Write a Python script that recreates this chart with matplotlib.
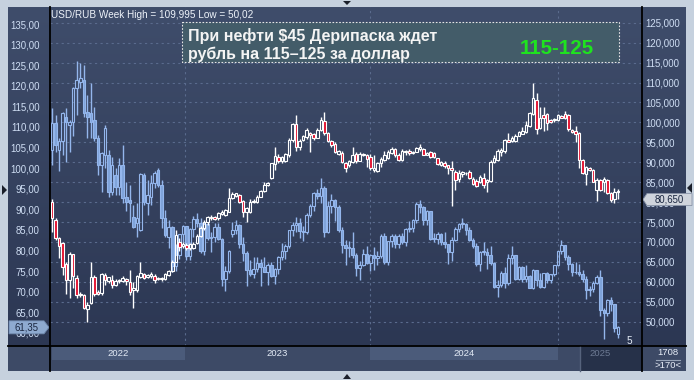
import numpy as np
import matplotlib
matplotlib.use('Agg')
import matplotlib.pyplot as plt
from matplotlib.patches import Rectangle, Polygon
from matplotlib.colors import LinearSegmentedColormap

plt.rcParams['font.family'] = ['Liberation Sans', 'DejaVu Sans']

# ---------------- DATA ----------------
# USD/RUB weekly candles (right axis)
usd_open = [80.1, 75.5, 70.9, 69.7, 64.6, 60.5, 66.9, 60.9, 56.6, 56.7, 53.2, 54.6, 61.3, 57.4, 57.1, 61.7,
            60.2, 60.5, 59.2, 60.1, 60.3, 60.7, 60.0, 57.9, 57.9, 61.1, 61.9, 61.3, 61.5, 61.5, 60.9, 60.6,
            60.7, 61.7, 62.6, 65.1, 70.1, 69.0, 69.3, 68.4, 68.5, 69.8, 71.5, 73.4, 75.1, 75.9, 76.2, 75.9,
            77.1, 76.8, 77.6, 81.1, 81.6, 81.8, 80.3, 77.6, 77.6, 80.1, 80.1, 81.4, 82.8, 84.2, 86.1, 89.5,
            91.4, 90.2, 90.3, 91.8, 95.6, 99.5, 93.9, 95.7, 96.4, 97.4, 97.1, 96.2, 98.1, 100.3, 97.4, 95.3,
            94.5, 92.1, 92.4, 89.9, 89.3, 90.0, 92.0, 90.3, 92.1, 91.8, 91.2, 88.1, 87.8, 89.7, 90.6, 91.0,
            92.2, 93.2, 91.8, 90.6, 92.5, 92.8, 92.2, 92.6, 93.4, 93.4, 91.9, 92.5, 92.3, 91.0, 89.3, 89.9,
            89.3, 88.5, 87.6, 85.8, 87.1, 87.4, 87.6, 85.9, 85.3, 85.1, 86.1, 85.1, 85.3, 90.0, 90.6, 92.5,
            92.7, 95.5, 95.3, 95.3, 96.7, 97.0, 97.5, 99.2, 102.0, 105.6, 98.7, 101.9, 102.0, 100.5, 100.5, 100.6,
            101.6, 102.0, 101.8, 98.0, 97.9, 97.4, 90.6, 87.0, 88.5, 88.1, 83.0, 85.5, 85.1, 85.5, 82.2, 80.9,
            82.6]
usd_high = [80.8, 75.9, 71.2, 70.1, 65.0, 67.6, 67.1, 61.7, 57.4, 56.9, 55.0, 65.1, 61.7, 58.0, 62.1, 62.1,
            61.3, 61.7, 60.6, 60.8, 61.5, 61.0, 63.0, 60.0, 61.7, 64.9, 62.1, 62.0, 62.4, 61.9, 61.2, 61.3,
            62.1, 62.9, 65.5, 73.0, 71.1, 69.9, 69.8, 69.8, 70.0, 72.0, 74.0, 75.5, 76.4, 76.8, 76.5, 77.6,
            78.0, 78.3, 83.5, 82.6, 82.4, 82.0, 80.5, 78.9, 80.9, 80.8, 81.8, 83.1, 85.1, 85.0, 89.9, 93.9,
            92.0, 91.5, 92.2, 96.0, 99.8, 101.9, 95.8, 96.8, 98.7, 97.7, 97.3, 98.5, 101.4, 102.5, 97.7, 95.5,
            95.0, 93.0, 92.8, 90.1, 90.6, 93.7, 92.5, 92.6, 92.4, 92.0, 92.0, 91.8, 90.0, 91.4, 92.7, 93.1,
            93.7, 93.6, 92.2, 93.2, 93.1, 93.2, 92.9, 93.9, 94.5, 93.6, 92.6, 92.7, 92.5, 91.0, 90.3, 90.2,
            89.3, 90.2, 88.1, 88.1, 87.8, 87.6, 88.1, 86.4, 85.8, 86.8, 87.2, 85.8, 90.6, 91.8, 93.3, 93.5,
            95.8, 97.3, 96.6, 97.0, 97.8, 98.9, 100.3, 102.7, 110.0, 107.3, 103.9, 103.9, 102.3, 100.9, 101.2, 102.0,
            101.8, 102.9, 102.0, 98.3, 99.2, 97.5, 90.8, 89.1, 88.7, 88.3, 86.0, 85.8, 86.4, 85.8, 82.6, 83.6,
            83.2]
usd_low = [72.6, 70.5, 65.9, 61.7, 56.9, 55.9, 58.4, 56.0, 56.2, 53.2, 50.0, 54.4, 56.5, 56.7, 56.7, 59.2,
           59.8, 58.4, 58.9, 59.7, 59.9, 59.2, 56.7, 53.4, 57.4, 60.9, 60.7, 61.0, 60.9, 59.8, 60.4, 60.3,
           60.5, 61.5, 62.4, 64.9, 67.7, 68.5, 67.9, 68.0, 68.2, 69.5, 71.2, 73.0, 74.2, 75.6, 75.4, 75.6,
           76.8, 76.4, 77.4, 80.7, 81.2, 79.8, 76.3, 75.1, 77.2, 79.8, 79.7, 81.2, 82.6, 84.0, 85.9, 88.1,
           89.7, 89.9, 90.0, 91.4, 95.2, 92.7, 93.1, 95.3, 95.9, 92.5, 95.6, 96.0, 97.9, 96.8, 95.0, 93.9,
           92.2, 91.9, 89.7, 87.6, 88.9, 89.7, 89.7, 90.2, 91.5, 88.9, 88.1, 87.5, 87.5, 88.9, 90.2, 90.8,
           92.0, 91.4, 90.3, 90.3, 91.8, 91.8, 92.0, 92.5, 92.7, 91.7, 91.8, 91.1, 91.1, 89.3, 89.0, 88.5,
           87.0, 79.1, 83.0, 85.1, 86.4, 86.9, 85.8, 84.3, 83.9, 84.7, 83.5, 82.6, 85.0, 89.7, 90.3, 91.6,
           92.2, 95.0, 95.1, 95.2, 96.5, 97.0, 97.3, 98.9, 101.8, 97.0, 98.3, 97.8, 98.1, 99.8, 100.2, 100.3,
           101.0, 100.8, 97.8, 97.3, 95.0, 88.5, 87.0, 84.3, 87.9, 85.0, 80.3, 82.9, 82.5, 82.0, 80.1, 79.9,
           80.8]
usd_close = [75.9, 70.9, 69.1, 63.8, 60.5, 66.9, 61.5, 56.7, 56.9, 53.4, 54.2, 61.3, 56.9, 56.9, 61.9, 60.4,
             61.1, 59.2, 60.2, 60.5, 60.9, 60.1, 57.5, 58.4, 61.5, 62.1, 61.0, 61.7, 62.0, 60.4, 60.7, 61.0,
             61.9, 62.7, 65.1, 71.7, 68.8, 69.4, 68.5, 69.4, 69.6, 71.5, 73.4, 75.0, 76.3, 76.3, 75.7, 77.3,
             77.6, 78.0, 81.1, 82.0, 82.2, 80.1, 77.4, 78.4, 80.1, 80.4, 81.4, 82.8, 84.3, 84.7, 89.7, 91.6,
             90.2, 91.2, 92.0, 95.6, 99.5, 93.7, 95.3, 96.6, 98.1, 96.8, 96.2, 98.1, 100.5, 97.4, 95.3, 94.3,
             92.5, 92.9, 90.0, 88.6, 90.3, 91.8, 90.2, 92.1, 91.8, 90.7, 88.5, 88.5, 89.7, 90.8, 91.8, 92.5,
             93.2, 91.8, 90.6, 92.9, 92.7, 92.2, 92.6, 93.5, 93.7, 91.8, 92.4, 91.4, 91.4, 89.5, 90.0, 89.1,
             88.5, 88.1, 85.5, 87.2, 87.6, 87.2, 86.1, 84.5, 84.1, 86.4, 84.3, 85.5, 90.0, 91.0, 92.7, 93.1,
             95.6, 95.2, 96.0, 96.7, 97.7, 97.8, 99.3, 102.3, 106.2, 98.3, 101.2, 101.0, 99.8, 100.1, 100.8, 101.8,
             101.2, 101.0, 98.3, 97.7, 97.1, 90.6, 87.2, 88.9, 88.1, 85.1, 85.5, 83.0, 85.8, 82.2, 80.5, 82.6,
             82.9]

# Second series, weekly candles (left axis)
oil_open = [104.4, 110.9, 104.4, 106.5, 112.5, 110.5, 111.3, 119.4, 121.0, 121.4, 113.7, 113.3, 111.7, 107.3, 100.8, 103.2,
            103.2, 94.3, 98.4, 95.5, 100.8, 93.1, 92.3, 88.2, 86.6, 85.0, 98.4, 91.5, 93.1, 96.3, 99.6, 95.9,
            87.8, 83.4, 85.8, 76.3, 79.0, 83.9, 85.9, 78.6, 85.3, 87.6, 86.7, 79.9, 86.4, 83.0, 83.2, 85.8,
            82.8, 73.0, 75.0, 84.0, 84.9, 86.3, 81.7, 79.5, 75.3, 74.2, 75.6, 77.0, 76.1, 74.8, 76.6, 73.9,
            75.4, 78.5, 79.9, 81.1, 85.0, 86.2, 86.8, 84.8, 84.5, 88.6, 90.7, 93.9, 93.3, 95.3, 84.6, 90.9,
            92.2, 90.5, 84.9, 81.4, 80.6, 80.6, 78.9, 75.8, 76.6, 79.1, 77.0, 78.8, 78.3, 78.6, 83.6, 77.3,
            82.2, 83.5, 81.6, 83.6, 82.1, 85.3, 85.4, 87.5, 91.2, 90.5, 87.3, 89.5, 82.8, 82.8, 84.0, 82.1,
            81.6, 79.6, 82.6, 85.2, 86.4, 86.5, 85.0, 82.6, 81.1, 76.8, 79.7, 79.7, 79.0, 76.9, 71.1, 71.6,
            74.5, 72.0, 78.1, 79.0, 73.1, 76.1, 73.1, 73.9, 71.0, 75.2, 72.9, 71.1, 74.5, 72.9, 74.2, 76.5,
            79.8, 81.3, 78.5, 76.8, 74.7, 74.7, 74.4, 73.2, 70.4, 70.6, 72.2, 73.6, 65.6, 64.8, 68.0, 66.9,
            59.7]
oil_high = [114.5, 112.9, 107.3, 113.7, 114.5, 111.7, 119.8, 125.9, 125.5, 125.1, 117.8, 120.6, 114.9, 108.1, 104.0, 110.5,
            104.4, 102.8, 100.0, 102.4, 105.6, 96.7, 95.9, 91.1, 91.5, 98.8, 98.8, 97.1, 98.4, 99.2, 100.0, 97.1,
            89.9, 87.4, 85.9, 81.5, 84.0, 86.3, 86.0, 85.5, 88.5, 89.1, 87.8, 86.9, 86.9, 84.5, 86.8, 86.8,
            83.0, 76.3, 80.2, 87.0, 87.5, 86.4, 83.4, 80.0, 77.7, 78.4, 78.4, 78.0, 78.5, 77.0, 77.1, 75.7,
            78.6, 81.8, 81.5, 85.0, 87.0, 88.1, 87.8, 85.9, 89.2, 91.2, 94.3, 95.0, 97.7, 95.6, 92.0, 93.8,
            92.6, 91.0, 85.7, 82.5, 82.4, 84.5, 79.4, 77.4, 80.3, 81.0, 79.2, 80.8, 80.0, 84.1, 84.2, 82.4,
            83.9, 83.9, 84.0, 84.2, 85.5, 87.2, 87.6, 91.9, 92.2, 90.9, 89.8, 89.7, 84.2, 84.5, 84.3, 84.4,
            81.6, 83.2, 85.6, 86.8, 88.0, 86.6, 85.6, 83.0, 81.8, 79.9, 82.1, 80.5, 81.0, 77.3, 72.8, 75.1,
            76.0, 79.2, 81.2, 79.0, 76.3, 76.2, 76.4, 74.1, 75.5, 75.3, 74.5, 74.6, 74.8, 74.0, 76.6, 80.0,
            82.6, 81.4, 78.9, 77.0, 77.1, 76.8, 75.2, 73.8, 71.5, 72.6, 74.0, 75.3, 66.0, 68.3, 68.7, 67.0,
            61.6]
oil_low = [100.8, 104.0, 99.2, 103.2, 101.6, 104.0, 107.7, 112.9, 119.4, 112.5, 107.3, 107.3, 106.5, 98.4, 94.3, 100.0,
           93.1, 93.5, 93.5, 93.5, 91.5, 89.5, 87.0, 85.4, 83.4, 84.8, 91.1, 88.6, 91.1, 95.1, 95.5, 85.4,
           83.4, 80.6, 74.9, 75.0, 78.0, 82.0, 77.6, 77.8, 83.4, 85.8, 79.5, 79.0, 82.6, 79.7, 82.1, 82.5,
           71.4, 70.1, 74.5, 83.3, 83.9, 80.6, 77.5, 71.3, 73.9, 73.4, 74.8, 71.5, 74.7, 71.6, 73.5, 71.9,
           74.3, 77.7, 77.9, 80.6, 83.5, 84.6, 83.1, 82.3, 84.1, 88.1, 89.7, 92.4, 91.5, 83.4, 84.3, 89.0,
           87.2, 84.4, 79.4, 76.6, 78.4, 78.2, 73.9, 72.9, 76.3, 76.8, 75.0, 75.2, 76.4, 78.1, 76.7, 76.6,
           80.8, 80.6, 80.5, 81.6, 81.1, 84.5, 84.6, 86.8, 89.0, 86.2, 86.1, 82.6, 82.1, 81.5, 81.3, 80.6,
           76.8, 77.5, 82.2, 84.6, 85.4, 83.7, 82.3, 80.7, 76.2, 75.1, 79.0, 75.6, 76.4, 71.0, 68.7, 71.2,
           70.9, 71.6, 76.7, 72.8, 72.8, 72.4, 72.3, 70.8, 70.6, 71.3, 70.9, 71.0, 72.1, 72.2, 73.9, 76.2,
           79.2, 77.8, 75.2, 73.7, 74.3, 73.9, 72.4, 68.3, 69.0, 70.0, 71.9, 64.0, 58.4, 64.1, 65.3, 60.1,
           58.8]
oil_close = [110.9, 105.6, 106.5, 113.3, 111.3, 111.3, 119.4, 121.4, 122.0, 113.3, 112.5, 111.3, 107.3, 100.8, 103.6, 109.8,
             94.3, 100.8, 95.5, 100.8, 92.7, 91.9, 91.5, 85.8, 87.8, 98.6, 91.9, 93.5, 96.3, 98.8, 95.9, 87.8,
             83.8, 85.8, 76.3, 79.0, 83.9, 85.9, 78.6, 85.3, 87.6, 86.7, 79.9, 86.4, 83.0, 83.2, 85.8, 82.8,
             73.0, 75.0, 79.8, 84.9, 86.3, 81.7, 79.5, 75.3, 74.2, 75.6, 77.0, 76.1, 74.8, 76.6, 73.9, 75.4,
             78.5, 79.9, 81.1, 85.0, 86.2, 86.8, 84.8, 84.5, 88.6, 90.7, 93.9, 93.3, 95.3, 84.6, 90.9, 92.2,
             90.5, 84.9, 81.4, 80.6, 80.6, 78.9, 75.8, 76.6, 79.1, 77.0, 78.8, 78.3, 78.6, 83.6, 77.3, 82.2,
             83.5, 81.6, 83.6, 82.1, 85.3, 85.4, 87.5, 91.2, 90.5, 87.3, 89.5, 82.8, 82.8, 84.0, 82.1, 81.6,
             79.6, 82.6, 85.2, 86.4, 86.5, 85.0, 82.6, 81.1, 76.8, 79.7, 79.7, 79.0, 76.9, 71.1, 71.6, 74.5,
             72.0, 78.1, 79.0, 73.1, 76.1, 73.1, 73.9, 71.0, 75.2, 72.9, 71.1, 74.5, 72.9, 74.2, 76.5, 79.8,
             81.3, 78.5, 76.8, 74.7, 74.7, 74.4, 73.2, 70.4, 70.6, 72.2, 73.6, 65.6, 64.8, 68.0, 66.9, 61.3,
             61.35]

usd_last = 80.65
oil_last = 61.35
left_ticks = [60, 65, 70, 75, 80, 85, 90, 95, 100, 105, 110, 115, 120, 125, 130, 135]
right_ticks = [50, 55, 60, 65, 70, 75, 80, 85, 90, 95, 100, 105, 110, 115, 120, 125]
year_labels = ['2022', '2023', '2024', '2025']
header = 'USD/RUB Week High = 109,995 Low = 50,02'
note_lines = ['При нефти $45 Дерипаска ждет', 'рубль на 115–125 за доллар']
note_big = '115-125'

# ---------------- LAYOUT ----------------
W, H = 694, 380
fig = plt.figure(figsize=(W / 100, H / 100), dpi=100)
fig.patch.set_facecolor('#c6d1de')

bg = fig.add_axes([0, 0, 1, 1], zorder=0)
bg.set_xlim(0, W); bg.set_ylim(H, 0); bg.axis('off')
cmap = LinearSegmentedColormap.from_list('g', ['#3f4d6b', '#2c3753'])
grad = np.linspace(0, 1, 256).reshape(-1, 1)
bg.imshow(grad, extent=(8, 686, 346, 7), cmap=cmap, aspect='auto', interpolation='bilinear')
bg.add_patch(Rectangle((8, 346), 678, 25, fc='#3d4a66', ec='none'))
bg.set_xlim(0, W); bg.set_ylim(H, 0)

ax = fig.add_axes([50 / W, 1 - 346 / H, 592 / W, 339 / H], zorder=2)
ax.patch.set_alpha(0)
xs = np.arange(len(usd_close))
ax.set_xlim(-0.565, 166.8)
ax.set_ylim(43.91, 128.94)
ax_b = ax.twinx()
ax_b.set_ylim(56.82, 139.13)
ax_w = ax.twinx()
ax_w.set_ylim(43.91, 128.94)
for a in (ax, ax_b, ax_w):
    for s in a.spines.values():
        s.set_visible(False)
    a.set_xticks([])

lab_col = '#cfdef4'
ax.yaxis.tick_right()
ax.set_yticks(right_ticks)
ax.set_yticklabels([f'{v:.3f}'.replace('.', ',') for v in right_ticks])
ax.tick_params(axis='y', length=0, pad=2.7, labelsize=6.9, labelcolor=lab_col)
ax_b.yaxis.tick_left()
ax_b.set_yticks(left_ticks)
ax_b.set_yticklabels([f'{v:.2f}'.replace('.', ',') for v in left_ticks])
ax_b.tick_params(axis='y', length=0, pad=7.5, labelsize=6.9, labelcolor=lab_col)
ax_w.set_yticks([])

grid_kw = dict(color='#5a6b8d', lw=0.8, linestyle=(0, (2, 3)))
ax.grid(axis='y', **grid_kw)
ax.set_axisbelow(True)
year_bounds = [37.6, 89.9, 143.0]
for xb in year_bounds:
    ax.axvline(xb, zorder=0, **grid_kw)


def candles(a, o, h, l, c, edge, upfill, downfill, width, wz):
    o, h, l, c = map(np.asarray, (o, h, l, c))
    lo = np.minimum(o, c)
    hi = np.maximum(o, c)
    a.vlines(xs[:len(o)], l, lo, color=edge, lw=1.0, zorder=wz)
    a.vlines(xs[:len(o)], hi, h, color=edge, lw=1.0, zorder=wz)
    fills = [upfill if cc >= oo else downfill for oo, cc in zip(o, c)]
    a.bar(xs[:len(o)], np.maximum(hi - lo, 0.18), width, bottom=lo, color=fills,
          edgecolor=edge, linewidth=0.8, zorder=wz + 1)


candles(ax_b, oil_open, oil_high, oil_low, oil_close, '#94b6ec', 'none', '#7fa3da', 0.72, 3)
candles(ax_w, usd_open, usd_high, usd_low, usd_close, '#ffffff', 'none', '#e3112f', 0.72, 3)

# ---------------- DECORATIONS ----------------
ov = fig.add_axes([0, 0, 1, 1], zorder=10)
ov.set_xlim(0, W); ov.set_ylim(H, 0); ov.axis('off')
ov.patch.set_alpha(0)
fig.canvas.draw()
inv = ov.transData.inverted()


def px_x(i):
    return inv.transform(ax.transData.transform((i, 50)))[0]


def px_y(a, v):
    return inv.transform(a.transData.transform((0, v)))[1]


# frame lines
ov.plot([50, 50], [7, 371], color='black', lw=1.3)
ov.plot([642, 642], [7, 371], color='black', lw=1.3)
ov.plot([8, 686], [346, 346], color='black', lw=1.3)

# header
ov.text(51, 15, header, fontsize=7.2, color='#eef3fa', va='center', ha='left')

# note box
ov.add_patch(Rectangle((182, 22), 437, 40, fc='#435c69', ec='#e6e6e6', lw=0.8, ls=(0, (1.5, 1.5))))
ov.text(188, 40.5, note_lines[0], fontsize=11.5, fontweight='bold', color='#f4f4f4', va='baseline')
ov.text(188, 59, note_lines[1], fontsize=11.5, fontweight='bold', color='#f4f4f4', va='baseline')
ov.text(557, 54, note_big, fontsize=14.8, fontweight='bold', color='#1fe31f', va='baseline', ha='center')

# year strip
x0, x1, x2, x3 = px_x(0), px_x(year_bounds[0]), px_x(year_bounds[1]), px_x(year_bounds[2])
ov.add_patch(Rectangle((x0, 347), x1 - x0, 13, fc='#4b5b7a', ec='none'))
ov.add_patch(Rectangle((x2, 347), x3 - x2, 13, fc='#4b5b7a', ec='none'))
ov.add_patch(Rectangle((580, 347), 62, 24, fc='#263149', ec='none'))
ov.plot([580, 580], [347, 371], color='#56637c', lw=1)
ov.text((x0 + x1) / 2, 353.5, year_labels[0], fontsize=6.8, color='#e4ebf6', ha='center', va='center')
ov.text((x1 + x2) / 2, 353.5, year_labels[1], fontsize=6.8, color='#e4ebf6', ha='center', va='center')
ov.text((x2 + x3) / 2, 353.5, year_labels[2], fontsize=6.8, color='#e4ebf6', ha='center', va='center')
ov.text(600, 353.5, year_labels[3], fontsize=6.8, color='#6d7a93', ha='center', va='center')

ov.text(668, 352.5, '1708', fontsize=6.8, color='#e8eef8', ha='center', va='center')
ov.plot([656, 680], [359.5, 359.5], color='#9aa6ba', lw=0.8)
ov.text(668, 366, '>170<', fontsize=6.8, color='#e8eef8', ha='center', va='center')
ov.text(629, 340.5, '5', fontsize=7.2, color='#e6edf7', ha='center', va='center')

# last-value markers
yu = px_y(ax_w, usd_last)
ov.add_patch(Polygon([[643, yu], [647, yu - 6], [692, yu - 6], [692, yu + 6], [647, yu + 6]],
                     closed=True, fc='#cfd4dc', ec='#8a95a8', lw=0.6))
ov.text(669, yu, f'{usd_last:.3f}'.replace('.', ','), fontsize=6.9, color='#1a2640', ha='center', va='center')
yb = px_y(ax_b, oil_last)
ov.add_patch(Polygon([[9, yb - 6.5], [44, yb - 6.5], [49, yb], [44, yb + 6.5], [9, yb + 6.5]],
                     closed=True, fc='#8eaad0', ec='#6d86aa', lw=0.6))
ov.text(27, yb, f'{oil_last:.2f}'.replace('.', ','), fontsize=6.9, color='#1a2640', ha='center', va='center')

# little UI arrows
ov.add_patch(Polygon([[2, 185], [7, 190], [2, 195]], closed=True, fc='#1a1f2a', ec='none'))
ov.add_patch(Polygon([[692, 183], [687, 188], [692, 193]], closed=True, fc='#1a1f2a', ec='none'))
ov.add_patch(Polygon([[343, 1], [351, 1], [347, 5]], closed=True, fc='#1a1f2a', ec='none'))
ov.add_patch(Polygon([[343, 379], [351, 379], [347, 374]], closed=True, fc='#1a1f2a', ec='none'))

fig.savefig('out.png', dpi=100, facecolor=fig.get_facecolor())
